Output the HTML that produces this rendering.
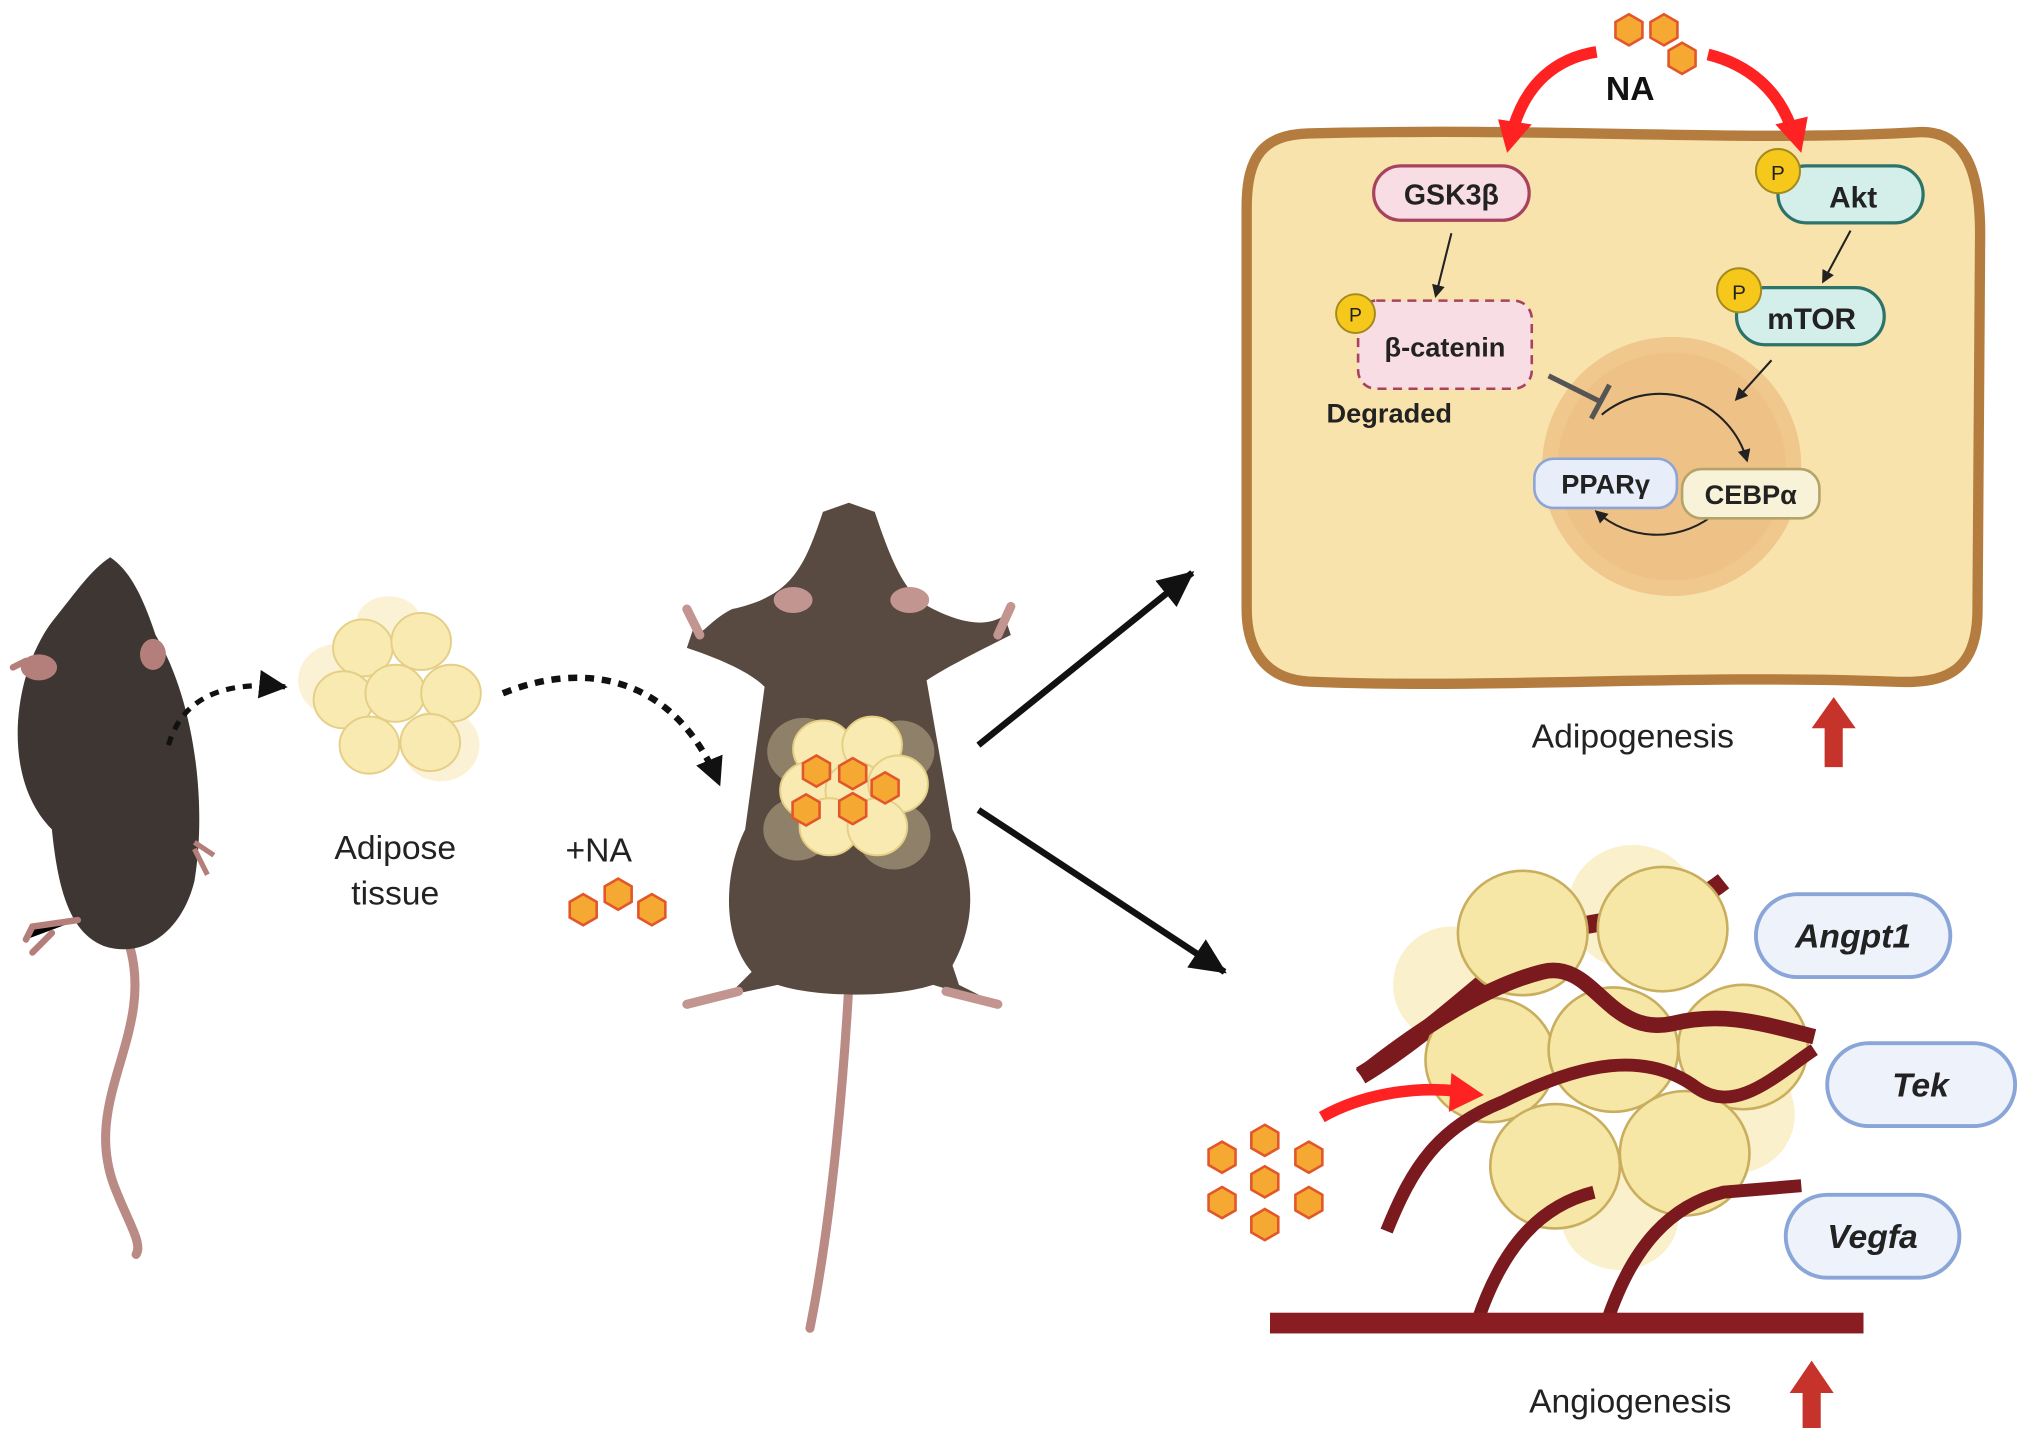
<!DOCTYPE html>
<html><head><meta charset="utf-8"><style>
html,body{margin:0;padding:0;background:#fff}
svg{display:block}
text{font-family:"Liberation Sans",sans-serif}
</style></head><body>
<svg width="2032" height="1441" viewBox="0 0 1568 1112" xmlns="http://www.w3.org/2000/svg">
<defs>
<marker id="ab" markerWidth="10" markerHeight="10" refX="8" refY="5" orient="auto" markerUnits="userSpaceOnUse"><path d="M0,0 L10,5 L0,10 z" fill="#222"/></marker>
<marker id="abig" markerWidth="30" markerHeight="26" refX="26" refY="13" orient="auto" markerUnits="userSpaceOnUse"><path d="M0,0 L28,13 L0,26 z" fill="#111"/></marker>
<marker id="abd" markerWidth="24" markerHeight="22" refX="20" refY="11" orient="auto" markerUnits="userSpaceOnUse"><path d="M0,0 L22,11 L0,22 z" fill="#111"/></marker>
<g id="hex"><polygon points="0,-12 10.4,-6 10.4,6 0,12 -10.4,6 -10.4,-6" fill="#f5a832" stroke="#e2572a" stroke-width="2"/></g>
<g id="fat"><ellipse rx="23" ry="22" fill="#f8eab0" stroke="#e5cf86" stroke-width="1.5"/></g>
<g id="bfat"><ellipse rx="50" ry="48" fill="#f6e7a6" stroke="#c9ae5e" stroke-width="2"/></g>
</defs>

<!-- Left mouse -->
<path d="M100,730 C120,800 60,850 90,920 C100,945 110,960 105,968" stroke="#b98b84" stroke-width="7" fill="none" stroke-linecap="round"/>
<path d="M40,640 C0,600 10,520 40,480 C60,455 70,440 85,430 C100,440 110,460 120,490 C150,540 160,620 150,680 C140,720 110,740 80,730 C55,720 45,690 40,640z" fill="#3d3632"/>
<ellipse cx="30" cy="515" rx="14" ry="10" fill="#b47f7a"/>
<ellipse cx="118" cy="505" rx="10" ry="12" fill="#b47f7a"/>
<path d="M150,650 l15,10 M150,655 l10,20" stroke="#b47f7a" stroke-width="4"/>
<path d="M20,510 l-10,5 M60,710 l-35,5 l-5,10 M40,720 l-15,15" stroke="#b47f7a" stroke-width="5" stroke-linecap="round"/>

<!-- dotted arrow 1 -->
<path d="M130,575 C140,540 170,525 220,530" stroke="#111" stroke-width="4" stroke-dasharray="7,6" fill="none" marker-end="url(#abd)"/>
<!-- adipose cluster -->
<g transform="translate(300,535)">
<ellipse cx="-40" cy="-10" rx="30" ry="28" fill="#fbf2d6"/><ellipse cx="40" cy="40" rx="30" ry="28" fill="#fbf2d6"/><ellipse cx="0" cy="-55" rx="25" ry="20" fill="#fbf2d6"/>
<use href="#fat" x="-20" y="-35"/><use href="#fat" x="25" y="-40"/><use href="#fat" x="-35" y="5"/><use href="#fat" x="5" y="0"/><use href="#fat" x="48" y="0"/><use href="#fat" x="-15" y="40"/><use href="#fat" x="32" y="38"/>
</g>
<text x="305" y="663" font-size="26" text-anchor="middle" fill="#222">Adipose</text>
<text x="305" y="698" font-size="26" text-anchor="middle" fill="#222">tissue</text>
<text x="462" y="665" font-size="26" text-anchor="middle" fill="#222">+NA</text>
<use href="#hex" x="450" y="702"/><use href="#hex" x="477" y="690"/><use href="#hex" x="503" y="702"/>
<!-- dotted arrow 2 -->
<path d="M388,535 C450,510 520,520 555,605" stroke="#111" stroke-width="5" stroke-dasharray="7,6" fill="none" marker-end="url(#abd)"/>

<!-- Middle mouse -->
<path d="M655,760 C650,850 640,950 625,1025" stroke="#b98b84" stroke-width="7" fill="none" stroke-linecap="round"/>
<path d="M565,470 C545,480 540,495 535,485 L530,500 C560,510 580,520 590,530 L575,640 C560,670 555,720 580,750 L560,770 L530,775 L600,760 C630,770 690,770 720,760 L770,775 L740,760 L735,745 C760,700 745,660 735,640 L715,525 C730,515 760,500 780,490 L775,475 C760,485 740,480 720,470 C700,460 690,440 675,395 L655,388 L635,395 C620,440 610,460 565,470z" fill="#584a41"/>
<ellipse cx="612" cy="463" rx="15" ry="10" fill="#c29590"/><ellipse cx="702" cy="463" rx="15" ry="10" fill="#c29590"/>
<path d="M530,470 l10,20 M780,468 l-10,22" stroke="#c29590" stroke-width="7" stroke-linecap="round"/>
<path d="M530,775 l40,-10 M770,775 l-40,-10" stroke="#c29590" stroke-width="7" stroke-linecap="round"/>
<g transform="translate(655,610)">
<ellipse cx="-35" cy="-30" rx="28" ry="26" fill="#8f8169"/><ellipse cx="35" cy="35" rx="28" ry="26" fill="#8f8169"/><ellipse cx="-40" cy="30" rx="26" ry="24" fill="#8f8169"/><ellipse cx="40" cy="-30" rx="26" ry="24" fill="#8f8169"/>
<use href="#fat" x="-20" y="-32"/><use href="#fat" x="18" y="-35"/><use href="#fat" x="-30" y="0"/><use href="#fat" x="5" y="0"/><use href="#fat" x="38" y="-5"/><use href="#fat" x="-15" y="28"/><use href="#fat" x="22" y="28"/>
<use href="#hex" x="-25" y="-15"/><use href="#hex" x="3" y="-13"/><use href="#hex" x="28" y="-2"/><use href="#hex" x="-33" y="15"/><use href="#hex" x="3" y="14"/>
</g>

<!-- big arrows -->
<line x1="755" y1="575" x2="920" y2="442" stroke="#111" stroke-width="5" marker-end="url(#abig)"/>
<line x1="755" y1="625" x2="945" y2="750" stroke="#111" stroke-width="5" marker-end="url(#abig)"/>

<!-- Cell -->
<path d="M1010,103 C1200,98 1350,110 1480,102 C1515,100 1528,130 1528,180 L1526,470 C1526,520 1500,528 1460,526 C1300,520 1150,532 1010,526 C975,524 962,500 962,470 L962,160 C962,120 975,104 1010,103z" fill="#f9e3ad" stroke="#b47d3f" stroke-width="8"/>
<circle cx="1290" cy="360" r="100" fill="#f0c78c"/>
<circle cx="1290" cy="360" r="88" fill="#eec287"/>
<path d="M1236,320 A70,70 0 0 1 1348,355" stroke="#222" stroke-width="1.6" fill="none" marker-end="url(#ab)"/>
<path d="M1325,395 A70,70 0 0 1 1232,395" stroke="#222" stroke-width="1.6" fill="none" marker-end="url(#ab)"/>
<!-- NA -->
<use href="#hex" x="1257" y="23"/><use href="#hex" x="1284" y="23"/><use href="#hex" x="1298" y="45"/>
<text x="1258" y="77" font-size="26" font-weight="bold" text-anchor="middle" fill="#111">NA</text>
<path d="M1232,40 C1200,45 1178,65 1168,98" stroke="#f22" stroke-width="9" fill="none"/>
<polygon points="1156,92 1182,96 1163,118" fill="#f22"/>
<path d="M1318,42 C1350,50 1372,70 1382,98" stroke="#f22" stroke-width="9" fill="none"/>
<polygon points="1370,96 1395,90 1390,118" fill="#f22"/>
<!-- GSK3b -->
<rect x="1060" y="128" width="120" height="42" rx="21" fill="#f9dde5" stroke="#a8435e" stroke-width="2.5"/>
<text x="1120" y="158" font-size="22" font-weight="bold" text-anchor="middle" fill="#222">GSK3β</text>
<line x1="1120" y1="180" x2="1108" y2="228" stroke="#222" stroke-width="1.6" marker-end="url(#ab)"/>
<rect x="1048" y="232" width="134" height="68" rx="14" fill="#f9dde5" stroke="#a8435e" stroke-width="2" stroke-dasharray="7,5"/>
<circle cx="1046" cy="242" r="15" fill="#f6c81c" stroke="#a38a1c" stroke-width="1.5"/><text x="1046" y="248" font-size="15" text-anchor="middle" fill="#222">P</text>
<text x="1115" y="275" font-size="21" font-weight="bold" text-anchor="middle" fill="#222">β-catenin</text>
<text x="1072" y="326" font-size="21" font-weight="bold" text-anchor="middle" fill="#222">Degraded</text>
<line x1="1195" y1="290" x2="1235" y2="310" stroke="#555" stroke-width="4"/>
<line x1="1228" y1="323" x2="1242" y2="297" stroke="#555" stroke-width="4"/>
<!-- Akt -->
<rect x="1372" y="128" width="112" height="44" rx="22" fill="#d4eeea" stroke="#2d7468" stroke-width="2.5"/>
<circle cx="1372" cy="132" r="17" fill="#f6c81c" stroke="#a38a1c" stroke-width="1.5"/><text x="1372" y="139" font-size="16" text-anchor="middle" fill="#222">P</text>
<text x="1430" y="160" font-size="23" font-weight="bold" text-anchor="middle" fill="#222">Akt</text>
<line x1="1428" y1="178" x2="1407" y2="217" stroke="#222" stroke-width="1.6" marker-end="url(#ab)"/>
<rect x="1340" y="222" width="114" height="44" rx="22" fill="#d4eeea" stroke="#2d7468" stroke-width="2.5"/>
<circle cx="1342" cy="224" r="17" fill="#f6c81c" stroke="#a38a1c" stroke-width="1.5"/><text x="1342" y="231" font-size="16" text-anchor="middle" fill="#222">P</text>
<text x="1398" y="254" font-size="23" font-weight="bold" text-anchor="middle" fill="#222">mTOR</text>
<line x1="1367" y1="278" x2="1340" y2="308" stroke="#222" stroke-width="1.6" marker-end="url(#ab)"/>
<rect x="1184" y="354" width="110" height="38" rx="15" fill="#e8eef9" stroke="#8ca4d6" stroke-width="2"/>
<text x="1239" y="381" font-size="21" font-weight="bold" text-anchor="middle" fill="#222">PPARγ</text>
<rect x="1298" y="362" width="106" height="38" rx="15" fill="#f8f2d8" stroke="#b5a467" stroke-width="2"/>
<text x="1351" y="389" font-size="21" font-weight="bold" text-anchor="middle" fill="#222">CEBPα</text>
<text x="1260" y="577" font-size="26" text-anchor="middle" fill="#222">Adipogenesis</text>
<polygon points="1408,592 1408,562 1398,562 1415,538 1432,562 1422,562 1422,592" fill="#c6332a"/>

<!-- Angiogenesis area -->
<g>
<ellipse cx="1120" cy="760" rx="45" ry="45" fill="#faf0cc"/><ellipse cx="1260" cy="700" rx="50" ry="48" fill="#faf0cc"/><ellipse cx="1340" cy="860" rx="45" ry="45" fill="#faf0cc"/><ellipse cx="1250" cy="940" rx="45" ry="40" fill="#faf0cc"/>
<path d="M1050,830 C1100,800 1140,760 1180,730 C1230,700 1280,720 1330,680" stroke="#7a1a1e" stroke-width="14" fill="none"/>
<use href="#bfat" x="1175" y="720"/><use href="#bfat" x="1283" y="717"/><use href="#bfat" x="1150" y="818"/><use href="#bfat" x="1245" y="810"/><use href="#bfat" x="1345" y="808"/><use href="#bfat" x="1200" y="900"/><use href="#bfat" x="1300" y="890"/>
<path d="M1050,830 C1100,790 1150,760 1190,750 C1230,740 1240,800 1290,790 C1330,780 1360,790 1400,800" stroke="#7a1a1e" stroke-width="12" fill="none"/>
<path d="M1070,950 C1090,900 1110,870 1160,850 C1220,820 1270,810 1310,840 C1340,860 1370,830 1400,810" stroke="#7a1a1e" stroke-width="10" fill="none"/>
<path d="M1140,1020 C1160,960 1190,930 1230,920 M1240,1020 C1260,960 1290,930 1330,920 L1390,915" stroke="#7a1a1e" stroke-width="10" fill="none"/>
<rect x="980" y="1013" width="458" height="16" fill="#8a1d22"/>
<path d="M1020,862 C1050,845 1090,838 1125,842" stroke="#f22" stroke-width="9" fill="none"/>
<polygon points="1120,828 1145,845 1118,858" fill="#f22"/>
<use href="#hex" x="943" y="893"/><use href="#hex" x="976" y="880"/><use href="#hex" x="1010" y="893"/><use href="#hex" x="943" y="928"/><use href="#hex" x="976" y="912"/><use href="#hex" x="1010" y="928"/><use href="#hex" x="976" y="945"/>
<rect x="1355" y="690" width="150" height="64" rx="32" fill="#eef2fb" stroke="#8aa5d8" stroke-width="3"/>
<text x="1430" y="731" font-size="26" font-weight="bold" font-style="italic" text-anchor="middle" fill="#222">Angpt1</text>
<rect x="1410" y="805" width="145" height="64" rx="32" fill="#eef2fb" stroke="#8aa5d8" stroke-width="3"/>
<text x="1482" y="846" font-size="26" font-weight="bold" font-style="italic" text-anchor="middle" fill="#222">Tek</text>
<rect x="1378" y="922" width="134" height="64" rx="32" fill="#eef2fb" stroke="#8aa5d8" stroke-width="3"/>
<text x="1445" y="963" font-size="26" font-weight="bold" font-style="italic" text-anchor="middle" fill="#222">Vegfa</text>
</g>
<text x="1258" y="1090" font-size="26" text-anchor="middle" fill="#222">Angiogenesis</text>
<polygon points="1391,1102 1391,1075 1381,1075 1398,1050 1415,1075 1405,1075 1405,1102" fill="#c6332a"/>
</svg>
</body></html>
